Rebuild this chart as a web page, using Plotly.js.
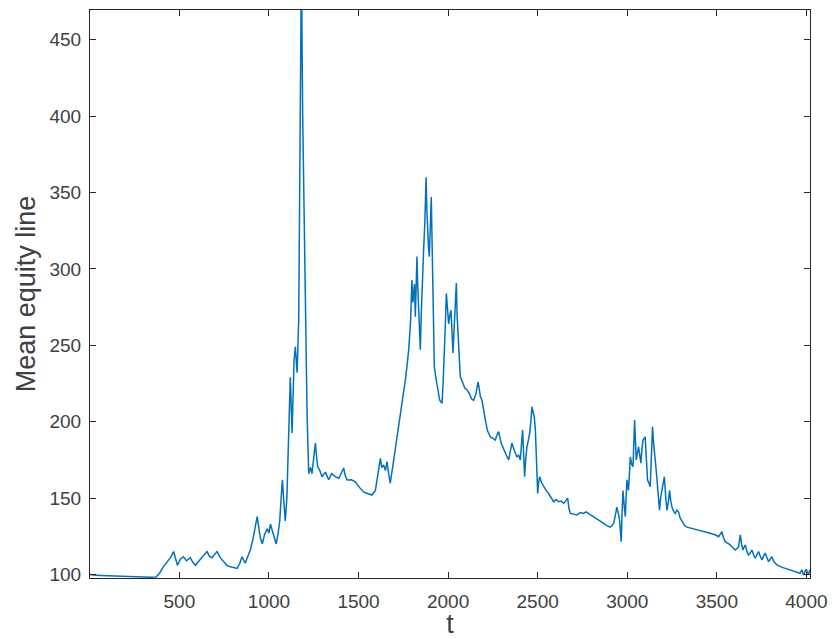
<!DOCTYPE html>
<html>
<head>
<meta charset="utf-8">
<script src="https://cdn.plot.ly/plotly-3.0.1.min.js"></script>
<style>
  html, body { margin: 0; padding: 0; background: #ffffff; }
  #chart { width: 832px; height: 639px; }
</style>
</head>
<body>
<div id="chart"></div>
<script>
// Time steps of the simulation
const tSteps = [
  1, 20, 60, 100, 150, 200, 250, 300, 340, 370,
  390, 410, 430, 450, 468, 478, 489, 505, 522, 540, 561, 575, 590, 610, 630, 654, 668, 682, 696, 710,
  728, 746, 765, 785, 805, 822, 836, 850, 860, 868, 882, 896, 912, 925, 934, 944, 952, 963, 975, 991,
  1000, 1008, 1020, 1030, 1040, 1050, 1060, 1068, 1075, 1083, 1091, 1100, 1110, 1119, 1129, 1140, 1147, 1157, 1166, 1174,
  1181, 1188, 1203, 1213, 1222, 1232, 1240, 1250, 1259, 1265, 1272, 1284, 1296, 1315, 1333, 1350, 1370, 1390, 1405, 1417,
  1425, 1436, 1460, 1482, 1505, 1528, 1550, 1575, 1594, 1608, 1622, 1630, 1640, 1650, 1659, 1668, 1677, 1690, 1705, 1715,
  1724, 1735, 1743, 1752, 1761, 1770, 1780, 1790, 1798, 1803, 1807, 1812, 1817, 1822, 1826, 1830, 1835, 1840, 1845, 1850,
  1854, 1858, 1863, 1870, 1877, 1881, 1886, 1890, 1895, 1900, 1906, 1910, 1914, 1918, 1923, 1930, 1938, 1945, 1953, 1960,
  1966, 1972, 1979, 1985, 1990, 1996, 2003, 2010, 2016, 2022, 2027, 2035, 2040, 2046, 2050, 2055, 2062, 2068, 2080, 2093,
  2106, 2120, 2130, 2142, 2155, 2167, 2173, 2180, 2189, 2202, 2208, 2220, 2236, 2250, 2263, 2272, 2282, 2296, 2310, 2325,
  2338, 2347, 2356, 2370, 2384, 2394, 2403, 2410, 2416, 2421, 2427, 2433, 2440, 2448, 2455, 2462, 2468, 2475, 2481, 2487,
  2492, 2500, 2505, 2511, 2522, 2533, 2547, 2561, 2575, 2589, 2603, 2617, 2631, 2645, 2656, 2667, 2675, 2682, 2700, 2719,
  2738, 2756, 2770, 2784, 2798, 2812, 2826, 2840, 2854, 2868, 2886, 2905, 2915, 2924, 2932, 2942, 2950, 2957, 2962, 2966,
  2971, 2976, 2983, 2989, 2998, 3007, 3017, 3025, 3032, 3041, 3050, 3057, 3063, 3070, 3076, 3082, 3088, 3100, 3106, 3113,
  3120, 3128, 3135, 3141, 3147, 3152, 3160, 3166, 3173, 3180, 3186, 3193, 3200, 3207, 3215, 3222, 3230, 3236, 3243, 3250,
  3260, 3268, 3277, 3286, 3295, 3305, 3320, 3333, 3350, 3370, 3390, 3407, 3420, 3435, 3450, 3463, 3475, 3490, 3510, 3519,
  3528, 3537, 3547, 3560, 3575, 3590, 3603, 3612, 3621, 3626, 3631, 3638, 3646, 3652, 3659, 3668, 3677, 3686, 3696, 3705,
  3714, 3724, 3733, 3742, 3752, 3761, 3770, 3780, 3789, 3798, 3807, 3816, 3826, 3840, 3854, 3868, 3882, 3896, 3910, 3924,
  3937, 3950, 3965, 3970, 3975, 3980, 3984, 3992, 3999, 4005, 4012, 4016, 4020
];

// Mean equity line at each time step
const meanEquity = [
  100, 99.6, 99.4, 99.2, 99.0, 98.9, 98.6, 98.3, 98.2, 98.4,
  101, 105, 108, 111, 115, 110, 106, 110, 111.6, 109, 111, 108, 106, 109, 112, 115, 112, 111, 113, 115,
  111, 108.4, 106, 105, 104.5, 104, 107, 111.6, 109, 107.5, 112, 116, 124, 132, 137.8, 130, 124, 120, 126, 130,
  127, 133, 128, 124, 120, 126, 135, 150, 162, 148, 135, 150, 195, 229, 192.6, 240, 249, 232, 266.6, 380,
  500, 402, 279.6, 203, 166, 170, 166, 178, 186, 178, 170.5, 168, 164, 167, 162, 166, 164, 163, 167, 169.7,
  165, 161.8, 162, 160.7, 157, 154, 153, 152, 155, 165, 176, 170, 171.7, 168, 173.8, 166, 159.7, 170, 181.5, 192,
  199, 206, 212, 220, 227, 236, 247, 265, 292.7, 278, 281.8, 290, 268.7, 295, 308, 290, 273, 258, 247, 270,
  286, 300, 312, 330, 360, 340, 323, 315, 308, 325, 347, 320, 295, 262, 236, 230, 225, 218, 214, 213,
  212, 225, 242.5, 265, 284, 272, 264, 270, 273, 258, 245, 264.5, 278, 290.7, 270, 255.6, 240, 229.5, 226, 222,
  220.7, 218, 215, 214, 218, 226, 222, 216.4, 214, 203, 201, 194, 190, 189, 188, 191, 193.5, 186, 181.5, 178,
  175, 180, 186, 181, 177, 178, 175, 186, 194.6, 180, 164, 175, 183.6, 188, 192.4, 200, 209.8, 206, 203, 195,
  181.5, 153, 160, 164, 160, 157.5, 155, 153, 150, 147.6, 149, 147.6, 148, 146.6, 148, 150, 143, 140, 139.5, 139,
  140.5, 140, 141, 140, 139, 137.8, 136.5, 135.7, 134.5, 133.5, 132, 131, 132, 133.5, 138, 144, 140, 135.7, 128, 121.5,
  140, 155, 145, 137.8, 162, 155, 177, 172, 170.5, 201, 175, 180, 183.6, 178, 172.8, 182, 188, 190, 176, 162,
  160, 157.5, 178, 196.7, 186, 177, 170, 162, 150, 142, 150, 155, 160, 164, 150, 142, 148, 155, 148, 144,
  141, 140, 142, 141, 137, 134.6, 132, 131, 130.5, 130.2, 129.5, 129, 128.5, 128, 127.5, 127, 126.5, 126, 124.7, 126,
  128, 124, 121.5, 120.5, 119.3, 117.5, 116, 117, 118, 122, 126, 120, 116, 118, 119.3, 115, 112.8, 114, 116, 113,
  110.6, 113, 115, 112, 109.5, 112, 114, 111, 108.4, 110, 111.6, 109, 107.3, 106, 105, 104.5, 104, 103.5, 103, 102.3,
  101.8, 101.2, 100.8, 102, 103, 101, 99.7, 102, 103.4, 101.5, 100.3, 102, 103
];

// Axis ticks
const xTickVals = [500, 1000, 1500, 2000, 2500, 3000, 3500, 4000];
const yTickVals = [100, 150, 200, 250, 300, 350, 400, 450];

const axisColor = '#262626';
const tickFont = { family: 'Liberation Sans, Arial, sans-serif', size: 19, color: '#404040' };
const titleFont = { family: 'Liberation Sans, Arial, sans-serif', size: 27, color: '#404040' };

const trace = {
  x: tSteps,
  y: meanEquity,
  type: 'scatter',
  mode: 'lines',
  line: { color: '#0072BD', width: 1.5 },
  hoverinfo: 'x+y'
};

const layout = {
  width: 832,
  height: 639,
  margin: { l: 90, r: 22, t: 10, b: 61 },
  paper_bgcolor: '#ffffff',
  plot_bgcolor: '#ffffff',
  showlegend: false,
  xaxis: {
    range: [1, 4020],
    tickvals: xTickVals,
    ticks: 'inside',
    ticklen: 6,
    tickcolor: axisColor,
    showline: true,
    linecolor: axisColor,
    linewidth: 1,
    mirror: 'allticks',
    showgrid: false,
    zeroline: false,
    tickfont: tickFont,
    ticklabelstandoff: 6,
    title: { text: 't', font: titleFont, standoff: 2 }
  },
  yaxis: {
    range: [97.7, 469.4],
    tickvals: yTickVals,
    ticks: 'inside',
    ticklen: 6,
    tickcolor: axisColor,
    showline: true,
    linecolor: axisColor,
    linewidth: 1,
    mirror: 'allticks',
    showgrid: false,
    zeroline: false,
    tickfont: tickFont,
    ticklabelstandoff: 4,
    title: { text: 'Mean equity line', font: titleFont, standoff: 6 }
  }
};

Plotly.newPlot('chart', [trace], layout, { displayModeBar: false, staticPlot: true });
</script>
</body>
</html>
